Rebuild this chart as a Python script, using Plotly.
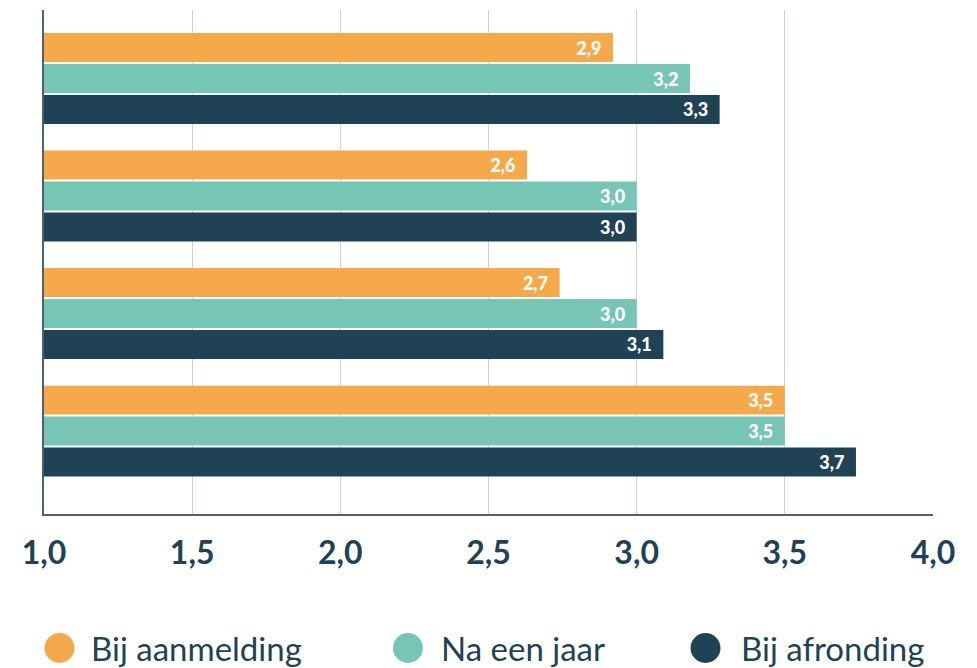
import plotly.graph_objects as go

series_names = ["Bij aanmelding", "Na een jaar", "Bij afronding"]
series_colors = ["#F5A94A", "#77C5B6", "#1F4254"]
groups = [0, 1, 2, 3]  # top to bottom, no labels shown
values = [
    [2.92, 2.63, 2.74, 3.50],  # Bij aanmelding
    [3.18, 3.00, 3.00, 3.50],  # Na een jaar
    [3.28, 3.00, 3.09, 3.74],  # Bij afronding
]
x_ticks = [1.0, 1.5, 2.0, 2.5, 3.0, 3.5, 4.0]
x_ticklabels = [f"{t:.1f}".replace(".", ",") for t in x_ticks]

DARK = "#1F4254"
FONT = "Lato"

fig = go.Figure()
for name, color, vals in zip(series_names, series_colors, values):
    fig.add_trace(go.Bar(
        y=groups, x=vals, orientation="h", name=name,
        marker=dict(color=color, line=dict(width=0)),
        text=[f"{v:.1f}".replace(".", ",") + "\u00a0\u00a0" for v in vals],
        textposition="inside", insidetextanchor="end",
        textfont=dict(color="white", size=18, family=FONT, weight=900),
        showlegend=False, hoverinfo="skip",
    ))

fig.update_layout(
    width=977, height=668,
    margin=dict(l=44, r=44, t=10, b=154),
    paper_bgcolor="white", plot_bgcolor="white",
    barmode="group", bargap=0.21, bargroupgap=0.065,
    font=dict(family=FONT, color=DARK),
    uniformtext=dict(minsize=18, mode="show"),
)
fig.update_xaxes(
    range=[1, 4], tickvals=x_ticks, ticktext=x_ticklabels,
    showgrid=True, gridcolor="#C9D2D8", gridwidth=1,
    showline=True, linecolor="#4A6170", linewidth=2,
    zeroline=False, ticks="", automargin=False,
    tickfont=dict(size=32, family=FONT, color=DARK, weight=700),
    ticklabelstandoff=10,
)
fig.update_yaxes(
    range=[3.706, -0.583], showticklabels=False, showgrid=False,
    showline=True, linecolor="#4A6170", linewidth=2, zeroline=False, ticks="",
    automargin=False,
)

# Legend drawn with circle markers and text
circle_x = [0.01744, 0.4094, 0.7441]
text_x = [0.0506, 0.4443, 0.7818]
leg_y = -0.2659
for name, color, cx, tx in zip(series_names, series_colors, circle_x, text_x):
    fig.add_shape(type="circle", xref="paper", yref="paper",
                  xsizemode="pixel", ysizemode="pixel",
                  xanchor=cx, yanchor=leg_y, x0=-15, x1=15, y0=-15, y1=15,
                  fillcolor=color, line=dict(width=0))
    fig.add_annotation(xref="paper", yref="paper", x=tx, y=leg_y,
                       xanchor="left", yanchor="middle", showarrow=False,
                       text=name, font=dict(size=33, family=FONT, color=DARK))

fig.write_html(
    "out.html",
    config={"displayModeBar": False},
    post_script="document.body.style.margin='0';document.body.style.overflow='hidden';",
)
